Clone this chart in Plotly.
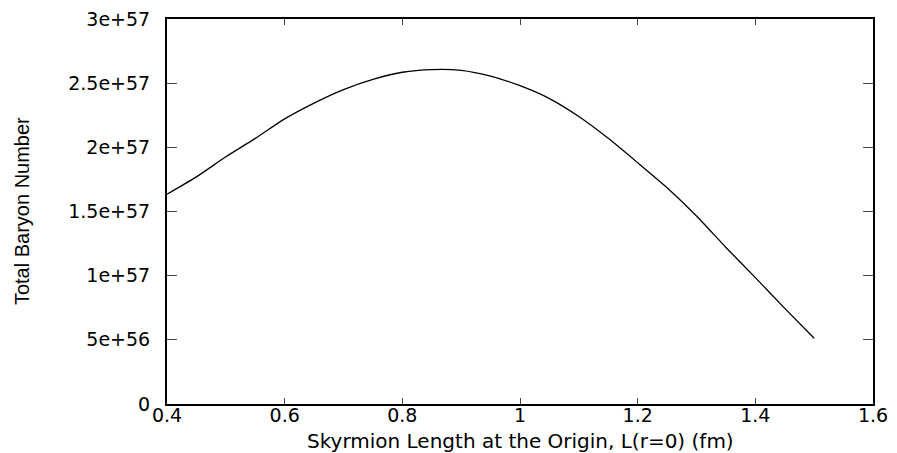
import plotly.graph_objects as go

# Data
length_fm = [0.40, 0.45, 0.50, 0.55, 0.60, 0.65, 0.70, 0.75, 0.80, 0.85,
             0.90, 0.95, 1.00, 1.05, 1.10, 1.15, 1.20, 1.25, 1.30, 1.35,
             1.40, 1.45, 1.50]
baryon_e57 = [1.635, 1.770, 1.926, 2.070, 2.222, 2.345, 2.450, 2.530, 2.585, 2.606,
              2.600, 2.555, 2.480, 2.380, 2.240, 2.070, 1.880, 1.685, 1.465, 1.220,
              0.985, 0.745, 0.512]
baryon = [v * 1e57 for v in baryon_e57]

x_tickvals = [0.4, 0.6, 0.8, 1.0, 1.2, 1.4, 1.6]
x_ticktext = ["0.4", "0.6", "0.8", "1", "1.2", "1.4", "1.6"]
y_tickvals = [0, 5e56, 1e57, 1.5e57, 2e57, 2.5e57, 3e57]
y_ticktext = ["0", "5e+56", "1e+57", "1.5e+57", "2e+57", "2.5e+57", "3e+57"]

x_title = "Skyrmion Length at the Origin, L(r=0) (fm)"
y_title = "Total Baryon Number"

fig = go.Figure()
fig.add_trace(go.Scatter(x=length_fm, y=baryon, mode="lines",
                         line=dict(color="black", width=1.3, shape="spline", smoothing=0.6),
                         showlegend=False, hoverinfo="skip"))

font_main = dict(family="DejaVu Sans, Liberation Sans, Arial, sans-serif", size=19, color="black")
font_xtitle = dict(family="DejaVu Sans, Liberation Sans, Arial, sans-serif", size=20, color="black")
font_ytitle = dict(family="Liberation Sans, Arial, sans-serif", size=20, color="black")

fig.update_layout(
    width=889, height=445,
    margin=dict(l=159, r=24, t=11, b=49),
    paper_bgcolor="white", plot_bgcolor="white",
    font=font_main,
    xaxis=dict(
        range=[0.4, 1.6], tickvals=x_tickvals, ticktext=x_ticktext,
        showgrid=False, zeroline=False, automargin=False,
        showline=True, linecolor="black", linewidth=2, mirror="ticks",
        ticks="inside", ticklen=6, tickwidth=1, tickcolor="#444",
        tickfont=font_main, ticklabelstandoff=-7, ticklabeloverflow="allow",
    ),
    yaxis=dict(
        range=[0, 3e57], tickvals=y_tickvals, ticktext=y_ticktext,
        showgrid=False, zeroline=False, automargin=False,
        showline=True, linecolor="black", linewidth=2, mirror="ticks",
        ticks="inside", ticklen=10, tickwidth=1, tickcolor="#444",
        tickfont=font_main, ticklabelstandoff=11, ticklabeloverflow="allow",
    ),
    annotations=[
        dict(text=x_title, xref="paper", yref="paper", x=0.5, y=-0.097,
             xanchor="center", yanchor="middle", showarrow=False, font=font_xtitle),
        dict(text=y_title, xref="paper", yref="paper", x=-0.2054, y=0.501,
             xanchor="center", yanchor="middle", textangle=-90, showarrow=False,
             font=font_ytitle),
    ],
)

fig.write_html("out.html")
